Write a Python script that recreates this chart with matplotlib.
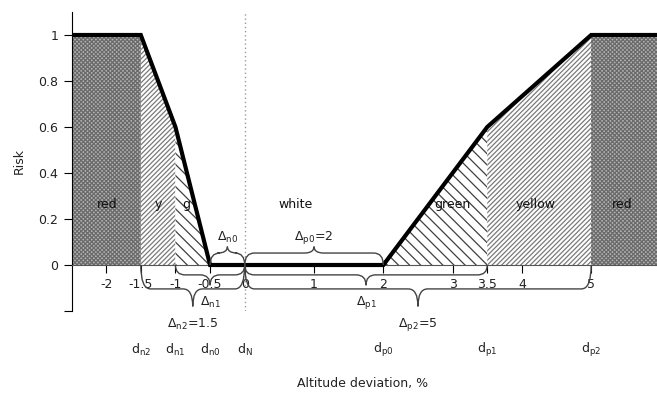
import numpy as np
import matplotlib
matplotlib.use("Agg")
import matplotlib.pyplot as plt
from matplotlib.path import Path
from matplotlib.patches import PathPatch

plt.rcParams['font.family'] = 'DejaVu Sans'
plt.rcParams['mathtext.fontset'] = 'dejavusans'
plt.rcParams['mathtext.default'] = 'regular'
plt.rcParams['hatch.linewidth'] = 0.9

# risk curve breakpoints
dev_x = [-2.5, -1.5, -1.0, -0.5, 2.0, 3.5, 5.0, 6.0]
risk_y = [1.0, 1.0, 0.6, 0.0, 0.0, 0.6, 1.0, 1.0]

# zones: (start, end, label)
zone_lo = [-2.5, -1.5, -1.0, -0.5, 2.0, 3.5, 5.0]
zone_hi = [-1.5, -1.0, -0.5, 2.0, 3.5, 5.0, 6.0]
zone_names = ['red', 'y', 'g', 'white', 'green', 'yellow', 'red']
zone_kind = ['red', 'yellow', 'green', 'white', 'green', 'yellow', 'red']
zone_label_x = [-1.98, -1.24, -0.84, 0.74, 3.0, 4.2, 5.45]

xticks = [-2, -1.5, -1, -0.5, 0, 1, 2, 3, 3.5, 4, 5]
xticklabels = ['-2', '-1.5', '-1', '-0.5', '0', '1', '2', '3', '3.5', '4', '5']
yticks = [-0.2, 0, 0.2, 0.4, 0.6, 0.8, 1.0]
yticklabels = ['', '0', '0.2', '0.4', '0.6', '0.8', '1']

# braces: (start, end, label, level)
brace_lo = [-0.5, 0.0, -1.0, 0.0, -1.5, 0.0]
brace_hi = [0.0, 2.0, 0.0, 3.5, 0.0, 5.0]
brace_text = [r'$\Delta_{n0}$', r'$\Delta_{p0}$=2', r'$\Delta_{n1}$', r'$\Delta_{p1}$',
              r'$\Delta_{n2}$=1.5', r'$\Delta_{p2}$=5']
brace_level = ['up', 'up', 'in', 'in', 'out', 'out']

# threshold names
d_x = [-1.5, -1.0, -0.5, 0.0, 2.0, 3.5, 5.0]
d_text = [r'$d_{n2}$', r'$d_{n1}$', r'$d_{n0}$', r'$d_N$', r'$d_{p0}$', r'$d_{p1}$', r'$d_{p2}$']

styles = {
    'red': dict(facecolor='#b4b4b4', edgecolor='#6a6a6a', hatch='xxxxxxxx'),
    'yellow': dict(facecolor='white', edgecolor='#7a7a7a', hatch='///////'),
    'green': dict(facecolor='white', edgecolor='#404040', hatch='\\\\\\'),
}
levels = {'up': (0.052, 0.08), 'in': (-0.043, -0.088), 'out': (-0.104, -0.18)}
label_y = {'up': 0.12, 'in': -0.165, 'out': -0.26}

fig = plt.figure(figsize=(6.57, 3.94), dpi=100)
ax = fig.add_axes([71.5 / 657, 1 - 311 / 394, (657 - 71.5) / 657, 299 / 394])
ax.set_xlim(-2.5, 5.95)
ax.set_ylim(-0.2, 1.1)

xs = np.array(dev_x)
ys = np.array(risk_y)
for lo, hi, kind in zip(zone_lo, zone_hi, zone_kind):
    if kind == 'white':
        continue
    m = (xs >= lo) & (xs <= hi)
    ax.fill_between(xs[m], 0, ys[m], linewidth=0, zorder=1, **styles[kind])

for name, lx in zip(zone_names, zone_label_x):
    ax.text(lx, 0.264, name, ha='center', va='center', fontsize=9, color='#111', zorder=3)

ax.axvline(0, color='#999', lw=1, ls=(0, (1, 2)), zorder=0)
ax.plot(dev_x, risk_y, color='black', lw=3, zorder=4, solid_joinstyle='miter', clip_on=True)


def brace(x0, x1, yf, yt, w=0.14):
    xm = (x0 + x1) / 2
    verts = [(x0, 0), (x0, yf), (x0 + w, yf),
             (xm - w, yf), (xm, yf), (xm, yt),
             (xm, yf), (xm + w, yf),
             (x1 - w, yf), (x1, yf), (x1, 0)]
    codes = [Path.MOVETO, Path.CURVE3, Path.CURVE3,
             Path.LINETO, Path.CURVE3, Path.CURVE3,
             Path.CURVE3, Path.CURVE3,
             Path.LINETO, Path.CURVE3, Path.CURVE3]
    return PathPatch(Path(verts, codes), fill=False, edgecolor='#444', lw=1, zorder=5,
                     clip_on=False)


for lo, hi, txt, lev in zip(brace_lo, brace_hi, brace_text, brace_level):
    yf, yt = levels[lev]
    ax.add_patch(brace(lo, hi, yf, yt))
    ax.text((lo + hi) / 2, label_y[lev], txt, ha='center', va='center', fontsize=9,
            color='#222', zorder=6)

for dx, dt in zip(d_x, d_text):
    ax.text(dx, -0.37, dt, ha='center', va='center', fontsize=9, color='#222', clip_on=False)

ax.spines['top'].set_visible(False)
ax.spines['right'].set_visible(False)
ax.spines['bottom'].set_position(('data', 0))
ax.spines['bottom'].set_color('#555')
ax.spines['bottom'].set_zorder(3)
ax.set_xticks(xticks)
ax.set_xticklabels(xticklabels)
ax.set_yticks(yticks)
ax.set_yticklabels(yticklabels)
ax.tick_params(axis='both', direction='out', length=6, labelsize=9, labelcolor='#222')
ax.tick_params(axis='x', pad=3)
ax.set_ylabel('Risk', fontsize=9, color='#222')
ax.yaxis.set_label_coords(-0.078, 0.5)
fig.text(363 / 657, 1 - 383 / 394, 'Altitude deviation, %', ha='center', va='center',
         fontsize=9, color='#222')

fig.savefig('out.png', dpi=100)
